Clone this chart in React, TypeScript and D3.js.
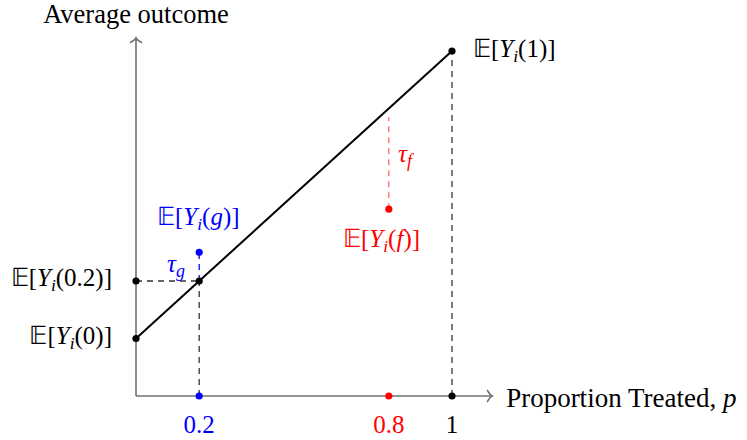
import React from 'react';
import * as d3 from 'd3';

// proportion treated on x, average outcome on y (axis units)
const lineP = [0, 1];
const lineY = [1, 6];
const pTicks = [0.2, 0.8, 1];
const tickColors = ['#0000ff', '#ff0000', '#000000'];
const yAt02 = 2;
const yG = 2.5;
const yF = 3.25;
const tauFTop = 4.85;
const xAxisMax = 1.127;
const yAxisMax = 6.23;

const W = 747;
const H = 440;
const FONT = 'Liberation Serif';

const x = d3.scaleLinear().domain([0, 1]).range([136, 452]);
const y = d3.scaleLinear().domain([0, 6]).range([396, 51]);

const dash = '6,5';

type LabelProps = {
  arg: string;
  argItalic?: boolean;
  px: number;
  py: number;
  anchor?: 'start' | 'end' | 'middle';
  color?: string;
  size?: number;
};

const ExpLabel = ({ arg, argItalic, px, py, anchor = 'start', color = '#000', size = 25 }: LabelProps) => (
  <text x={px} y={py} textAnchor={anchor} fill={color} fontFamily={FONT} fontSize={size}>
    <tspan>{'𝔼['}</tspan>
    <tspan fontStyle="italic">Y</tspan>
    <tspan fontStyle="italic" fontSize={size * 0.7} dy={size * 0.18}>i</tspan>
    <tspan dy={-size * 0.18}>(</tspan>
    <tspan fontStyle={argItalic ? 'italic' : 'normal'}>{arg}</tspan>
    <tspan>{')]'}</tspan>
  </text>
);

const Tau = ({ sub, px, py, color }: { sub: string; px: number; py: number; color: string }) => (
  <text x={px} y={py} fill={color} fontFamily={FONT} fontSize={25} fontStyle="italic">
    <tspan>τ</tspan>
    <tspan fontSize={18} dy={5}>{sub}</tspan>
  </text>
);

const Dot = ({ cx, cy, color = '#000' }: { cx: number; cy: number; color?: string }) => (
  <circle cx={cx} cy={cy} r={3.6} fill={color} />
);

export default function App() {
  const line = d3
    .line<number>()
    .x((_, i) => x(lineP[i]))
    .y((d) => y(d));

  const x0 = x(0);
  const y0 = y(0);
  const xEnd = x(xAxisMax);
  const yEnd = y(yAxisMax);
  const axisColor = '#707070';

  return (
    <svg width={W} height={H} style={{ position: 'absolute', left: 0, top: 0, background: '#fff' }}>
      {/* axes */}
      <g stroke={axisColor} strokeWidth={1.6} fill="none">
        <line x1={x0} y1={y0} x2={xEnd} y2={y0} />
        <line x1={x0} y1={y0} x2={x0} y2={yEnd} />
        <path d={`M${xEnd - 5},${y0 - 6} Q${xEnd - 2},${y0 - 1} ${xEnd},${y0} Q${xEnd - 2},${y0 + 1} ${xEnd - 5},${y0 + 6}`} />
        <path d={`M${x0 - 6},${yEnd + 5} Q${x0 - 1},${yEnd + 2} ${x0},${yEnd} Q${x0 + 1},${yEnd + 2} ${x0 + 6},${yEnd + 5}`} />
      </g>

      {/* dashed guides */}
      <g fill="none" strokeWidth={1.3} strokeDasharray={dash}>
        <line x1={x0} y1={y(yAt02)} x2={x(0.2)} y2={y(yAt02)} stroke="#333" />
        <line x1={x(0.2)} y1={y0} x2={x(0.2)} y2={y(yAt02)} stroke="#333" />
        <line x1={x(1)} y1={y0} x2={x(1)} y2={y(lineY[1])} stroke="#333" />
        <line x1={x(0.2)} y1={y(yAt02)} x2={x(0.2)} y2={y(yG)} stroke="#0000ff" />
        <line x1={x(0.8)} y1={y(yF)} x2={x(0.8)} y2={y(tauFTop)} stroke="#ff0000" strokeOpacity={0.6} />
      </g>

      {/* main line */}
      <path d={line(lineY) || ''} stroke="#000" strokeWidth={2} fill="none" />

      {/* points */}
      <Dot cx={x0} cy={y(lineY[0])} />
      <Dot cx={x0} cy={y(yAt02)} />
      <Dot cx={x(0.2)} cy={y(yAt02)} />
      <Dot cx={x(1)} cy={y(lineY[1])} />
      <Dot cx={x(0.2)} cy={y(yG)} color="#0000ff" />
      <Dot cx={x(0.8)} cy={y(yF)} color="#ff0000" />
      {pTicks.map((p, i) => (
        <Dot key={p} cx={x(p)} cy={y0} color={tickColors[i]} />
      ))}

      {/* tick labels */}
      {pTicks.map((p, i) => (
        <text key={p} x={x(p)} y={433} textAnchor="middle" fill={tickColors[i]} fontFamily={FONT} fontSize={25}>
          {String(p)}
        </text>
      ))}

      {/* axis titles */}
      <text x={x0} y={23} textAnchor="middle" fontFamily={FONT} fontSize={26.5}>
        Average outcome
      </text>
      <text x={xEnd + 14} y={407} fontFamily={FONT} fontSize={27}>
        Proportion Treated, <tspan fontStyle="italic">p</tspan>
      </text>

      {/* math labels */}
      <ExpLabel arg="1" px={473} py={57} />
      <ExpLabel arg="0.2" px={112} py={286} anchor="end" />
      <ExpLabel arg="0" px={112} py={344} anchor="end" />
      <ExpLabel arg="g" argItalic px={157} py={225} color="#0000ff" />
      <ExpLabel arg="f" argItalic px={343} py={247} color="#ff0000" />
      <Tau sub="g" px={167} py={272} color="#0000ff" />
      <Tau sub="f" px={398} py={162} color="#ff0000" />
    </svg>
  );
}
